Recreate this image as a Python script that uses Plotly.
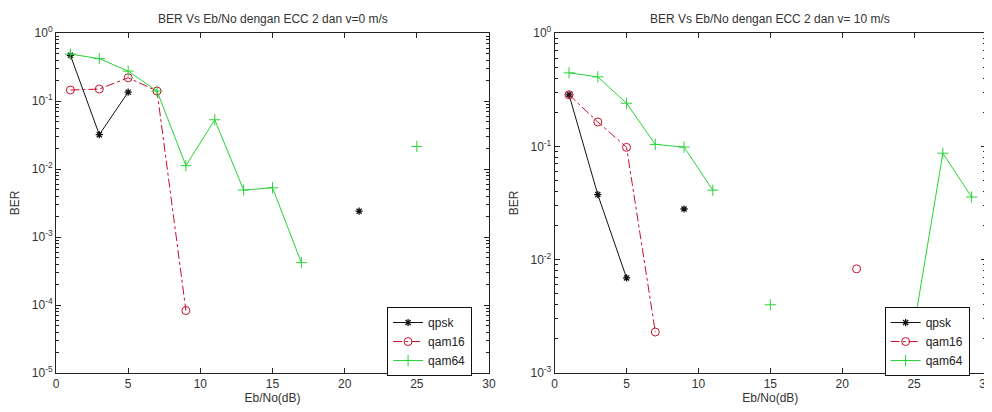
import plotly.graph_objects as go
from plotly.subplots import make_subplots

ebno = [1, 3, 5, 7, 9, 11, 13, 15, 17, 19, 21, 23, 25, 27, 29]

# Left panel: v = 0 m/s  (None = BER of zero, not drawn on log axis)
qpsk_v0 = [0.47, 0.032, 0.135, None, None, None, None, None, None, None, 0.0024, None, None, None, None]
qam16_v0 = [0.145, 0.15, 0.22, 0.14, 8.3e-5, None, None, None, None, None, None, None, None, None, None]
qam64_v0 = [0.49, 0.42, 0.275, 0.14, 0.0112, 0.053, 0.0049, 0.0053, 4.2e-4, None, None, None, 0.0215, None, None]

# Right panel: v = 10 m/s
qpsk_v10 = [0.285, 0.0375, 0.0069, None, 0.028, None, None, None, None, None, None, None, None, None, None]
qam16_v10 = [0.285, 0.164, 0.098, 0.0023, None, None, None, None, None, None, 0.0083, None, None, None, None]
qam64_v10 = [0.445, 0.41, 0.24, 0.104, 0.0985, 0.041, None, 0.004, None, None, None, None, 0.0026, 0.087, 0.0357]

titles = ["BER Vs Eb/No dengan ECC 2 dan v=0 m/s", "BER Vs Eb/No dengan ECC 2 dan v= 10 m/s"]
names = ["qpsk", "qam16", "qam64"]
yexp_left = [-5, -4, -3, -2, -1, 0]
yexp_right = [-3, -2, -1, 0]
xticks = [0, 5, 10, 15, 20, 25, 30]

FONT = "Liberation Sans, Arial, sans-serif"
C_QPSK = "#111111"
C_Q16 = "#c8102e"
C_Q64 = "#2ad23a"

def major(exps):
    return [10.0 ** e for e in exps]

def minor(exps):
    return [m * 10.0 ** e for e in exps[:-1] for m in range(2, 10)]

def labels(exps):
    return ["10<sup>%d</sup>" % e for e in exps]

fig = make_subplots(rows=1, cols=2)

def add_panel(col, qpsk, q16, q64, legend):
    fig.add_trace(go.Scatter(x=ebno, y=qpsk, name=names[0], mode="lines+markers",
                             line=dict(color=C_QPSK, width=1),
                             marker=dict(symbol="asterisk-open", size=6, color=C_QPSK, line=dict(width=1.3, color=C_QPSK)),
                             legend=legend, connectgaps=False), row=1, col=col)
    fig.add_trace(go.Scatter(x=ebno, y=q16, name=names[1], mode="lines+markers",
                             line=dict(color=C_Q16, width=1, dash="dashdot"),
                             marker=dict(symbol="circle-open", size=8, color=C_Q16, line=dict(width=1, color=C_Q16)),
                             legend=legend, connectgaps=False), row=1, col=col)
    fig.add_trace(go.Scatter(x=ebno, y=q64, name=names[2], mode="lines+markers",
                             line=dict(color=C_Q64, width=1),
                             marker=dict(symbol="cross-thin-open", size=8, color=C_Q64, line=dict(width=1, color=C_Q64)),
                             legend=legend, connectgaps=False), row=1, col=col)

add_panel(1, qpsk_v0, qam16_v0, qam64_v0, "legend")
add_panel(2, qpsk_v10, qam16_v10, qam64_v10, "legend2")

TXT = "#333"
axis_common = dict(showline=True, linecolor="#222", linewidth=1, mirror="allticks",
                   ticks="inside", ticklen=5, tickcolor="#222", showgrid=False, zeroline=False,
                   automargin=False, ticklabeloverflow="allow",
                   tickfont=dict(family=FONT, size=12, color=TXT))

L_DOM = [0.0, 0.4656]
R_DOM = [0.5362, 1.0]

for col, dom in ((1, L_DOM), (2, R_DOM)):
    fig.update_xaxes(range=[0, 30], tickmode="array", tickvals=xticks, domain=dom,
                     title=dict(text="Eb/No(dB)", font=dict(family=FONT, size=12, color=TXT), standoff=0),
                     row=1, col=col, **axis_common)

for col, exps in ((1, yexp_left), (2, yexp_right)):
    fig.update_yaxes(type="log", range=[exps[0], exps[-1]], tickmode="array",
                     tickvals=major(exps), ticktext=labels(exps),
                     minor=dict(tickmode="array", tickvals=minor(exps), ticks="inside", ticklen=3,
                                tickcolor="#222", showgrid=False),
                     domain=[0, 1],
                     title=dict(text="BER", font=dict(family=FONT, size=12, color=TXT), standoff=9),
                     row=1, col=col, **axis_common)

leg_common = dict(bgcolor="white", bordercolor="#111", borderwidth=1,
                  font=dict(family=FONT, size=12, color="#222"),
                  xanchor="left", yanchor="top", tracegroupgap=0, itemwidth=30)
fig.update_layout(
    legend=dict(x=0.356, y=0.194, **leg_common),
    legend2=dict(x=0.891, y=0.194, **leg_common),
)

for i, t in enumerate(titles):
    dom = [L_DOM, R_DOM][i]
    fig.add_annotation(text=t, x=(dom[0] + dom[1]) / 2, y=1, xref="paper", yref="paper",
                       xanchor="center", yanchor="bottom", yshift=5, showarrow=False,
                       font=dict(family=FONT, size=12, color=TXT))

# page body has an 8px margin, so the figure is sized to fit the 992x412 window
fig.update_layout(width=984, height=404, margin=dict(l=48, r=6, t=25, b=39, autoexpand=False),
                  paper_bgcolor="white", plot_bgcolor="white", showlegend=True)

fig.write_html("out.html")
